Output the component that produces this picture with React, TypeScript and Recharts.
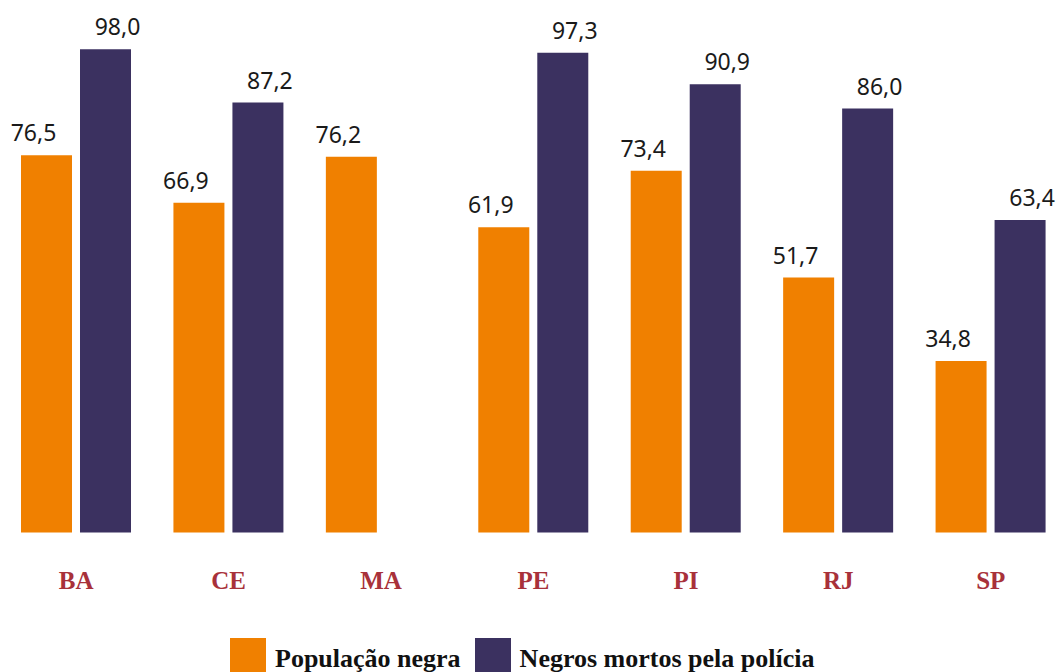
import { BarChart, Bar, XAxis, YAxis, Legend, LabelList } from "recharts";

const STATES = ["BA", "CE", "MA", "PE", "PI", "RJ", "SP"];
const POP_NEGRA = [76.5, 66.9, 76.2, 61.9, 73.4, 51.7, 34.8];
const MORTOS = [98.0, 87.2, null, 97.3, 90.9, 86.0, 63.4];

const ORANGE = "#f08000";
const PURPLE = "#3b3160";
const RED = "#a8313a";

const data = STATES.map((uf, i) => ({ uf, pop: POP_NEGRA[i], mortos: MORTOS[i] }));

const fmt = (v: number) => v.toFixed(1).replace(".", ",");

const makeLabel = (dx: number) => (props: any) => {
  const { x, y, width, value } = props;
  if (value == null) return null;
  return (
    <text x={x + width / 2 + dx} y={y - 14} textAnchor="middle"
      style={{ fontFamily: "'Noto Sans', sans-serif", fontSize: 23, fill: "#1a1a1a" }}>
      {fmt(value)}
    </text>
  );
};

const StateTick = ({ x, y, payload }: any) => (
  <text x={x} y={y + 56} textAnchor="middle"
    style={{ fontFamily: "'Liberation Serif', serif", fontWeight: 700, fontSize: 25, fill: RED }}>
    {payload.value}
  </text>
);

const renderLegend = () => {
  const items = [
    { label: "População negra", color: ORANGE },
    { label: "Negros mortos pela polícia", color: PURPLE },
  ];
  return (
    <div style={{ display: "flex", alignItems: "flex-end", gap: 14 }}>
      {items.map((it) => (
        <div key={it.label} style={{ display: "flex", alignItems: "flex-end", gap: 9 }}>
          <div style={{ width: 36, height: 36, background: it.color }} />
          <span style={{
            fontFamily: "'Liberation Serif', serif", fontWeight: 700, fontSize: 26,
            color: "#111", lineHeight: "26px", whiteSpace: "nowrap", marginBottom: 2
          }}>{it.label}</span>
        </div>
      ))}
    </div>
  );
};

export default function App() {
  return (
    <div style={{ position: "absolute", left: 0, top: 0, width: 1056, height: 672, overflow: "hidden", background: "#fff" }}>
      <BarChart width={1067} height={672} data={data} barSize={51} barGap={8}
        margin={{ top: 39.5, right: 0, bottom: 79.5, left: 0 }}>
        <XAxis dataKey="uf" axisLine={false} tickLine={false} tickSize={0} tickMargin={0}
          height={60} interval={0} tick={<StateTick />} />
        <YAxis hide domain={[0, 100]} />
        <Legend content={renderLegend} layout="horizontal" verticalAlign="middle" align="center"
          wrapperStyle={{ top: 638, left: 230, width: "auto" }} />
        <Bar dataKey="pop" name="População negra" fill={ORANGE} isAnimationActive={false}>
          <LabelList dataKey="pop" content={makeLabel(-13)} />
        </Bar>
        <Bar dataKey="mortos" name="Negros mortos pela polícia" fill={PURPLE} isAnimationActive={false}>
          <LabelList dataKey="mortos" content={makeLabel(12)} />
        </Bar>
      </BarChart>
    </div>
  );
}
